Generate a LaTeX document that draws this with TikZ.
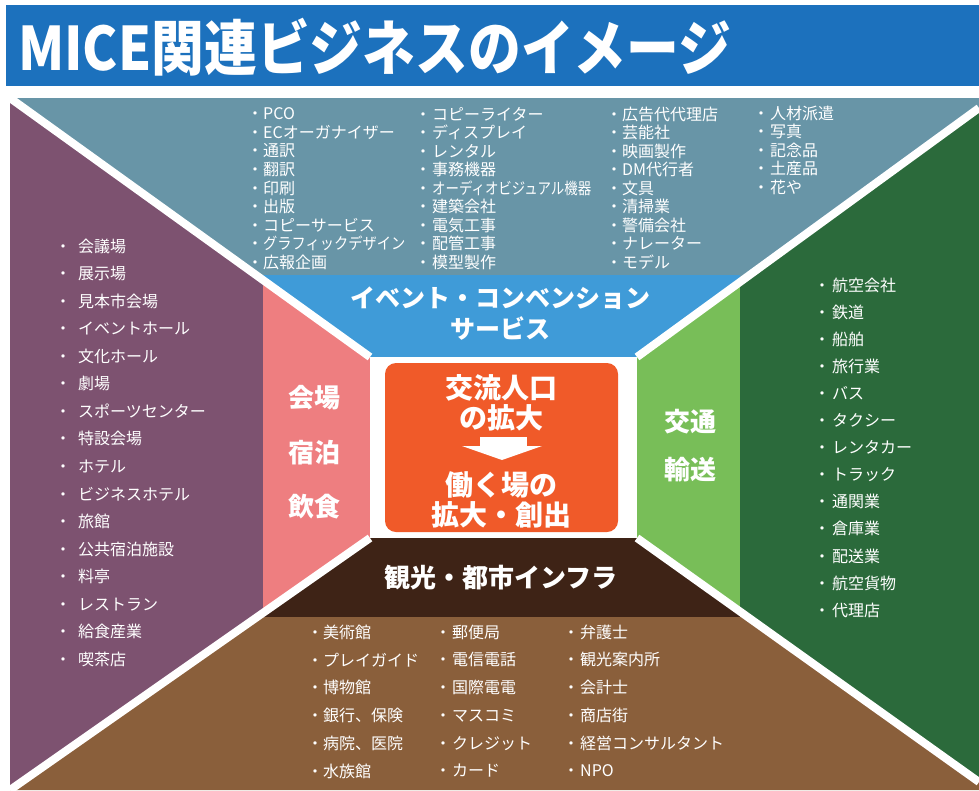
\documentclass[tikz,border=0pt]{standalone}
\usepackage{fontspec}
\usepackage{graphicx}
\newfontfamily\jp{Noto Sans CJK JP}
\definecolor{titlebl}{HTML}{1C71BD}
\definecolor{steel}{HTML}{6895A7}
\definecolor{ltblue}{HTML}{3F9BD8}
\definecolor{purp}{HTML}{7D5270}
\definecolor{pinkc}{HTML}{EE7E80}
\definecolor{dkgreen}{HTML}{2B6A3B}
\definecolor{ltgreen}{HTML}{78BE58}
\definecolor{brownc}{HTML}{8A5F3B}
\definecolor{dkbrown}{HTML}{3E2316}
\definecolor{orangec}{HTML}{F05A29}
\tikzset{
  item/.style={anchor=west, inner sep=0pt, text=white, font=\jp\fontsize{16}{16}\selectfont},
  lab/.style={inner sep=0pt, text=white, font=\jp\bfseries\fontsize{26}{26}\selectfont},
  corelab/.style={inner sep=0pt, text=white, font=\jp\bfseries\fontsize{28}{28}\selectfont},
  sep/.style={white, line width=8pt}
}
\begin{document}
\begin{tikzpicture}[x=1pt,y=-1pt]
\useasboundingbox (0,0) rectangle (979,790);
\fill[white] (0,0) rectangle (979,790);
% title
\fill[titlebl] (6,5) rectangle (979,86);
\node[anchor=west, inner sep=0pt, text=white] (title) at (18,47)
  {\scalebox{0.88}[1]{\jp\bfseries\fontsize{60}{60}\selectfont MICE関連ビジネスのイメージ}};
% outer regions
\fill[steel] (10,98) -- (979,98) -- (979,108) -- (637,357) -- (370,357) -- cycle;
\fill[purp] (10,98) -- (370,357) -- (370,538) -- (10,790) -- cycle;
\fill[dkgreen] (979,108) -- (637,357) -- (637,538) -- (979,782) -- cycle;
\fill[brownc] (10,790) -- (370,538) -- (637,538) -- (979,782) -- (979,790) -- cycle;
% inner ring
\begin{scope}
  \clip (10,98) -- (979,98) -- (979,108) -- (637,357) -- (370,357) -- cycle;
  \fill[ltblue] (263,275) rectangle (740,617);
\end{scope}
\begin{scope}
  \clip (10,98) -- (370,357) -- (370,538) -- (10,790) -- cycle;
  \fill[pinkc] (263,275) rectangle (740,617);
\end{scope}
\begin{scope}
  \clip (979,108) -- (637,357) -- (637,538) -- (979,782) -- cycle;
  \fill[ltgreen] (263,275) rectangle (740,617);
\end{scope}
\begin{scope}
  \clip (10,790) -- (370,538) -- (637,538) -- (979,782) -- (979,790) -- cycle;
  \fill[dkbrown] (263,275) rectangle (740,617);
\end{scope}
% white separators
\begin{scope}
  \clip (10,98) rectangle (979,790);
  \draw[sep] (10,98) -- (370,357);
  \draw[sep] (10,790) -- (370,538);
  \draw[sep] (979,108) -- (637,357);
  \draw[sep] (979,782) -- (637,538);
\end{scope}
\fill[white] (370,357) rectangle (637,538);
% core
\node[fill=orangec, rounded corners=11pt, minimum width=233, minimum height=169, inner sep=0pt] (core) at (501.5,447.5) {};
\node[corelab] (c1) at (501,388) {交流人口};
\node[corelab] (c2) at (501,418) {の拡大};
\fill[white] (480,437) rectangle (527,446);
\fill[white] (462,446) -- (542,446) -- (502,460) -- cycle;
\node[corelab] (c3) at (501,485) {働く場の};
\node[corelab] (c4) at (501,515) {拡大・創出};
% category labels
\node[lab, font=\jp\bfseries\fontsize{25}{25}\selectfont] (ev1) at (500,298) {イベント・コンベンション};
\node[lab, font=\jp\bfseries\fontsize{25}{25}\selectfont] (ev2) at (500,328) {サービス};
\node[lab] (v1) at (314,398) {会場};
\node[lab] (v2) at (314,453) {宿泊};
\node[lab] (v3) at (314,507) {飲食};
\node[lab] (tr1) at (690,422) {交通};
\node[lab] (tr2) at (690,470) {輸送};
\node[lab] (inf) at (501,578) {観光・都市インフラ};
% top lists
\foreach \t [count=\i] in {PCO,ECオーガナイザー,通訳,翻訳,印刷,出版,コピーサービス,{\scalebox{0.89}[1]{グラフィックデザイン}},広報企画}
  \node[item] (ta\i) at (255,{114+(\i-1)*18.5}) {\makebox[0pt]{・}\hspace{8pt}\t};
\foreach \t [count=\i] in {コピーライター,ディスプレイ,レンタル,事務機器,{\scalebox{0.84}[1]{オーディオビジュアル機器}},建築会社,電気工事,配管工事,模型製作}
  \node[item] (tb\i) at (423,{114+(\i-1)*18.5}) {\makebox[0pt]{・}\hspace{9pt}\t};
\foreach \t [count=\i] in {広告代代理店,芸能社,映画製作,DM代行者,文具,清掃業,警備会社,ナレーター,モデル}
  \node[item] (tc\i) at (614,{114+(\i-1)*18.5}) {\makebox[0pt]{・}\hspace{8pt}\t};
\foreach \t [count=\i] in {人材派遣,写真,記念品,土産品,花や}
  \node[item] (td\i) at (761,{113+(\i-1)*18.5}) {\makebox[0pt]{・}\hspace{9pt}\t};
% left list
\foreach \t [count=\i] in {会議場,展示場,見本市会場,イベントホール,文化ホール,劇場,スポーツセンター,特設会場,ホテル,ビジネスホテル,旅館,公共宿泊施設,料亭,レストラン,給食産業,喫茶店}
  \node[item] (l\i) at (63,{246+(\i-1)*27.55}) {\makebox[0pt]{・}\hspace{15pt}\t};
% right list
\foreach \t [count=\i] in {航空会社,鉄道,船舶,旅行業,バス,タクシー,レンタカー,トラック,通関業,倉庫業,配送業,航空貨物,代理店}
  \node[item] (r\i) at (822,{285+(\i-1)*27.1}) {\makebox[0pt]{・}\hspace{10pt}\t};
% bottom lists
\foreach \t [count=\i] in {美術館,プレイガイド,博物館,銀行、保険,病院、医院,水族館}
  \node[item] (ba\i) at (315,{632+(\i-1)*27.8}) {\makebox[0pt]{・}\hspace{8pt}\t};
\foreach \t [count=\i] in {郵便局,電信電話,国際電電,マスコミ,クレジット,カード}
  \node[item] (bb\i) at (443,{632+(\i-1)*27.8}) {\makebox[0pt]{・}\hspace{9pt}\t};
\foreach \t [count=\i] in {弁護士,観光案内所,会計士,商店街,経営コンサルタント,NPO}
  \node[item] (bc\i) at (571,{632+(\i-1)*27.8}) {\makebox[0pt]{・}\hspace{9pt}\t};
\end{tikzpicture}
\end{document}
